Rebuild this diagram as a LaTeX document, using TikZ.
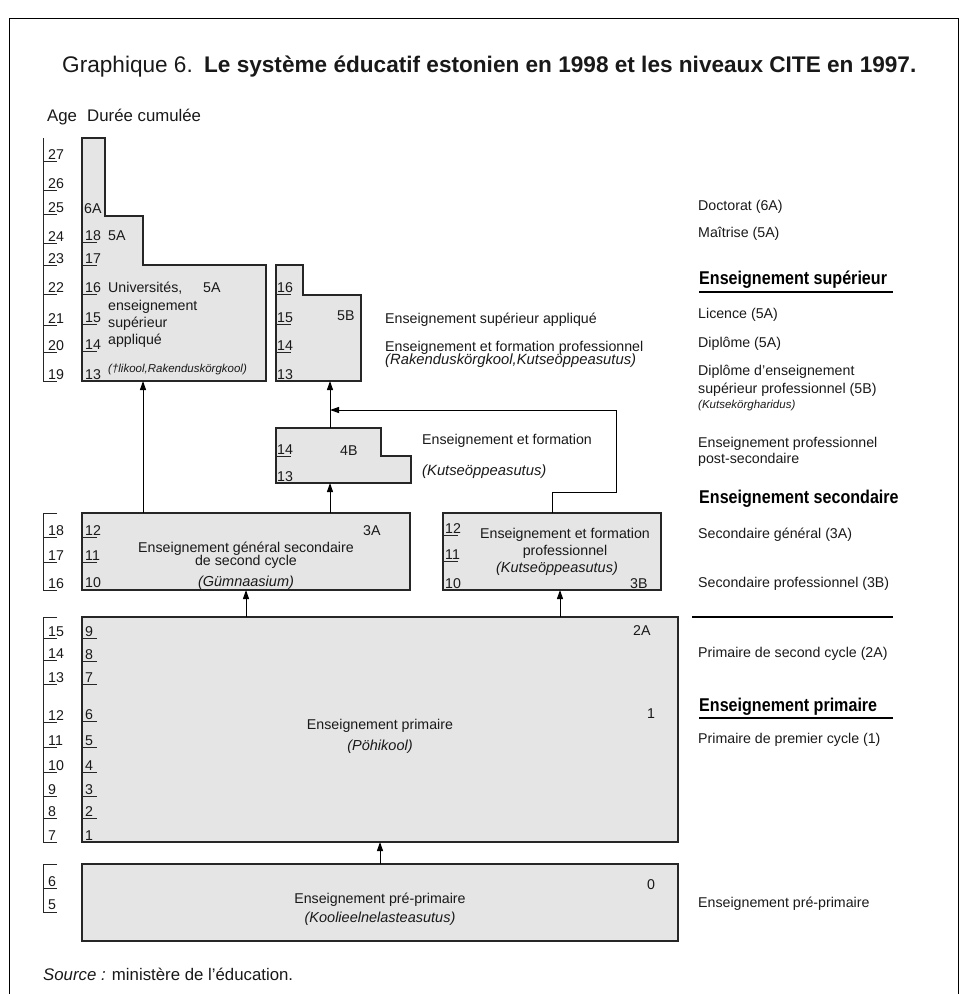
\documentclass[tikz,border=0pt]{standalone}
\usepackage{fontspec}
\setmainfont{Liberation Sans}
\newfontfamily\headfont[FakeStretch=0.87]{Liberation Sans}
\usetikzlibrary{arrows.meta,positioning}

\tikzset{
  box/.style={draw=black!85, fill=black!10, line width=1.2pt},
  rbox/.style={box, inner sep=0pt, outer sep=0pt, anchor=north west},
  tickline/.style={draw=black!85, line width=0.9pt},
  txt/.style={inner sep=0pt, text=black!90, font=\fontsize{14.2}{16}\selectfont},
  lab/.style={txt, anchor=base west},
  mid/.style={txt, anchor=base},
  itl/.style={lab, font=\fontsize{14.8}{16}\selectfont\itshape},
  itm/.style={mid, font=\fontsize{14.5}{16}\selectfont\itshape},
  smallit/.style={lab, font=\fontsize{11.5}{13}\selectfont\itshape},
  big/.style={lab, font=\fontsize{16.8}{19}\selectfont},
  head/.style={inner sep=0pt, anchor=base west, font=\headfont\bfseries\fontsize{18.5}{20}\selectfont},
  bar/.style={line width=2.5pt},
  arr/.style={line width=1pt, -{Triangle[length=9pt,width=6pt]}},
}

\begin{document}
\begin{tikzpicture}[x=1pt,y=-1pt]
\useasboundingbox (0,0) rectangle (968,994);
\draw[line width=1pt] (9,994) -- (9,18) -- (958,18) -- (958,994);

\node[lab, font=\fontsize{22.6}{26}\selectfont] (title) at (62,72)
  {Graphique 6.\hspace{0.5em}\textbf{Le système éducatif estonien en 1998 et les niveaux CITE en 1997.}};
\node[big] (agehead) at (47,121) {Age};
\node[big] (durhead) at (87,121) {Durée cumulée};

% age scale
\draw[tickline] (43,138) -- (43,381) -- (57,381);
\foreach \a/\y in {27/161,26/190,25/214,24/243,23/265,22/294,21/325,20/352}
  {\draw[tickline] (43,\y) -- (57,\y); \node[lab] (age\a) at (48,\y-1.5) {\a};}
\node[lab] (age19) at (48,379.5) {19};
\draw[tickline] (57,513) -- (43,513) -- (43,590) -- (57,590);
\foreach \a/\y in {18/537,17/562}
  {\draw[tickline] (43,\y) -- (57,\y); \node[lab] (age\a) at (48,\y-1.5) {\a};}
\node[lab] (age16) at (48,588.5) {16};
\draw[tickline] (57,617) -- (43,617) -- (43,842) -- (57,842);
\foreach \a/\y in {15/638,14/660,13/684,12/722,11/747,10/772,9/796,8/818}
  {\draw[tickline] (43,\y) -- (57,\y); \node[lab] (age\a) at (48,\y-1.5) {\a};}
\node[lab] (age7) at (48,840.5) {7};
\draw[tickline] (57,864) -- (43,864) -- (43,912) -- (57,912);
\draw[tickline] (43,888) -- (57,888);
\node[lab] (age6) at (48,886) {6};
\node[lab] (age5) at (48,909) {5};

% tertiary
\draw[box] (82,138) -- (105,138) -- (105,216) -- (143,216) -- (143,265) -- (266,265)
  -- (266,381) -- (143,381) coordinate (univ-in) -- (82,381) -- cycle;
\foreach \d/\y in {18/242,17/265,16/294,15/324,14/351}
  {\draw[tickline] (82,\y) -- (97,\y); \node[lab] (u\d) at (85,\y-1.5) {\d};}
\node[lab] (u13) at (85,379.5) {13};
\node[lab] (u6a) at (84,213) {6A};
\node[lab] (u5a) at (108,240) {5A};
\node[lab] (univ1) at (108,292) {Universités,};
\node[lab] (univ5a) at (203,292) {5A};
\node[lab] (univ2) at (108,310) {enseignement};
\node[lab] (univ3) at (108,327) {supérieur};
\node[lab] (univ4) at (108,344) {appliqué};
\node[smallit] (univ5) at (108,372) {(†likool,Rakenduskörgkool)};

\draw[box] (276,265) -- (303,265) -- (303,295) -- (361,295) -- (361,381)
  -- (330,381) coordinate (appl-in) -- (276,381) -- cycle;
\foreach \d/\y in {16/294,15/324,14/352}
  {\draw[tickline] (276,\y) -- (291,\y); \node[lab] (b\d) at (277,\y-1.5) {\d};}
\node[lab] (b13) at (277,379.5) {13};
\node[lab] (b5b) at (337,320) {5B};
\node[lab] (appl1) at (385,323) {Enseignement supérieur appliqué};
\node[lab] (appl2) at (385,351) {Enseignement et formation professionnel};
\node[itl] (appl3) at (385,364) {(Rakenduskörgkool,Kutseöppeasutus)};

% post-secondary
\draw[box] (276,428) -- (330,428) coordinate (post-out) -- (381,428) -- (381,456) -- (411,456)
  -- (411,483) -- (330,483) coordinate (post-in) -- (276,483) -- cycle;
\draw[tickline] (276,456) -- (291,456);
\node[lab] (f14) at (277,454.5) {14};
\node[lab] (f13) at (277,481) {13};
\node[lab] (f4b) at (340,455) {4B};
\node[lab] (post1) at (422,444) {Enseignement et formation};
\node[itl] (post2) at (422,475) {(Kutseöppeasutus)};

% secondary
\node[rbox, minimum width=328pt, minimum height=77pt] (gen) at (82,513) {};
\foreach \d/\y in {12/537,11/562}
  {\draw[tickline] (82,\y) -- (97,\y); \node[lab] (g\d) at (85,\y-1.5) {\d};}
\node[lab] (g10) at (85,587) {10};
\node[lab] (g3a) at (363,535) {3A};
\node[mid] (gen1) at (246,552) {Enseignement général secondaire};
\node[mid] (gen2) at (246,565) {de second cycle};
\node[itm] (gen3) at (246,586) {(Gümnaasium)};

\node[rbox, minimum width=218pt, minimum height=77pt] (voc) at (443,513) {};
\foreach \d/\y in {12/535,11/561}
  {\draw[tickline] (443,\y) -- (458,\y); \node[lab] (v\d) at (445,\y-1.5) {\d};}
\node[lab] (v10) at (445,588) {10};
\node[lab] (v3b) at (630,588) {3B};
\node[mid] (voc1) at (565,538) {Enseignement et formation};
\node[mid] (voc2) at (565,555) {professionnel};
\node[itm] (voc3) at (557,572) {(Kutseöppeasutus)};

% primary
\node[rbox, minimum width=596pt, minimum height=225pt] (prim) at (82,617) {};
\foreach \d/\y in {9/638,8/661,7/684,6/721,5/747,4/772,3/796,2/818}
  {\draw[tickline] (82,\y) -- (97,\y); \node[lab] (p\d) at (85,\y-1.5) {\d};}
\node[lab] (p1) at (85,840) {1};
\node[lab] (p2a) at (633,635) {2A};
\node[lab] (p1b) at (647,718) {1};
\node[mid] (prim1) at (380,729) {Enseignement primaire};
\node[itm] (prim2) at (380,750) {(Pöhikool)};

% pre-primary
\node[rbox, minimum width=596pt, minimum height=77pt] (pre) at (82,864) {};
\node[lab] (pre0) at (647,889) {0};
\node[mid] (pre1) at (380,903) {Enseignement pré-primaire};
\node[itm] (pre2) at (380,922) {(Koolieelnelasteasutus)};

% arrows
\coordinate (voc-in) at ([xshift=8pt]voc.south);
\coordinate (join) at (330,410);
\draw[arr] (pre.north) -- (prim.south);
\draw[arr] (prim.north -| gen.south) -- (gen.south);
\draw[arr] (prim.north -| voc-in) -- (voc-in);
\draw[arr] (gen.north -| univ-in) -- (univ-in);
\draw[arr] (gen.north -| post-in) -- (post-in);
\draw[arr] (post-out) -- (appl-in);
\draw[arr] (voc.north) -- ++(0,-21) -- ++(64,0) |- (join);

% ISCED levels
\node[lab] (isc6a) at (698,210) {Doctorat (6A)};
\node[lab] (isc5a) at (698,237) {Maîtrise (5A)};
\node[head] (hsup) at (699,284) {Enseignement supérieur};
\draw[bar] (699,292) -- (893,292);
\node[lab] (lic) at (698,318) {Licence (5A)};
\node[lab] (dip) at (698,347) {Diplôme (5A)};
\node[lab] (dip5b1) at (698,375) {Diplôme d'enseignement};
\node[lab] (dip5b2) at (698,393) {supérieur professionnel (5B)};
\node[smallit] (dip5b3) at (698,408) {(Kutsekörgharidus)};
\node[lab] (ps1) at (698,447) {Enseignement professionnel};
\node[lab] (ps2) at (698,463) {post-secondaire};
\node[head] (hsec) at (699,503) {Enseignement secondaire};
\node[lab] (sec3a) at (698,538) {Secondaire général (3A)};
\node[lab] (sec3b) at (698,587) {Secondaire professionnel (3B)};
\draw[bar] (692,617) -- (893,617);
\node[lab] (pr2a) at (698,657) {Primaire de second cycle (2A)};
\node[head] (hprim) at (699,711) {Enseignement primaire};
\draw[bar] (699,718) -- (893,718);
\node[lab] (pr1) at (698,743) {Primaire de premier cycle (1)};
\node[lab] (pr0) at (698,907) {Enseignement pré-primaire};

\node[big] (source) at (43,980) {\textit{Source :} ministère de l’éducation.};
\end{tikzpicture}
\end{document}
